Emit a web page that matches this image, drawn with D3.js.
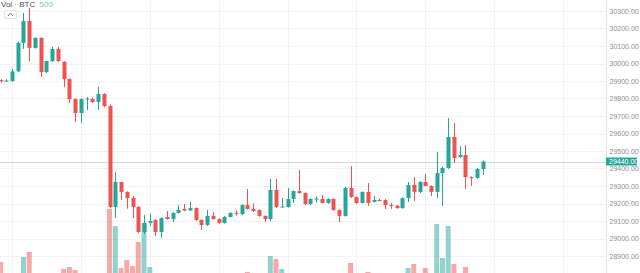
<!DOCTYPE html>
<html>
<head>
<meta charset="utf-8">
<script src="https://cdn.jsdelivr.net/npm/d3@7"></script>
<style>
  body { margin: 0; background: #fff; }
  svg { display: block; font-family: "Liberation Sans", "DejaVu Sans", sans-serif; }
</style>
</head>
<body>
<div id="chart"></div>
<script>
// 5-minute candles (index 0 = leftmost)
var opens  = [29905,29900,29900,29955,30117,30243,30089,30146,29951,30014,30083,30009,29911,29797,29717,29797,29797,29780,29826,29757,
              29180,29323,29266,29231,29180,29037,29089,29106,29037,29123,29111,29146,29169,29160,29174,29106,29077,29129,29111,29089,
              29123,29146,29140,29191,29169,29163,29129,29111,29277,29180,29180,29226,29271,29260,29197,29226,29226,29203,29226,29163,
              29129,29289,29237,29203,29266,29209,29220,29220,29191,29188,29174,29231,29306,29266,29323,29300,29266,29374,29403,29580,
              29466,29477,29351,29346,29397];
var highs  = [29910,29910,29970,30125,30289,30317,30150,30150,30014,30095,30095,30014,29915,29800,29800,29809,29805,29866,29830,29765,
              29380,29325,29270,29243,29185,29134,29140,29110,29120,29157,29150,29191,29197,29209,29178,29110,29163,29151,29114,29128,
              29150,29160,29195,29283,29200,29166,29132,29340,29340,29231,29289,29275,29391,29263,29230,29240,29249,29230,29230,29166,
              29295,29414,29240,29270,29317,29243,29226,29225,29203,29192,29236,29323,29351,29328,29369,29305,29494,29410,29689,29660,
              29529,29534,29355,29403,29445];
var lows   = [29890,29895,29895,29950,30083,30014,30085,29923,29945,30010,30009,29866,29774,29666,29660,29734,29775,29734,29750,29175,
              29117,29220,29170,29117,29031,29025,29070,29014,29003,29108,29094,29143,29155,29157,29100,29049,29072,29108,29085,29085,
              29120,29130,29135,29165,29152,29125,29094,29100,29175,29175,29176,29203,29255,29192,29192,29205,29200,29198,29158,29094,
              29125,29232,29198,29200,29186,29206,29212,29169,29169,29170,29170,29209,29214,29260,29297,29243,29231,29186,29398,29431,
              29460,29283,29300,29340,29363];
var closes = [29900,29903,29955,30117,30243,30089,30146,29951,30014,30083,30014,29911,29797,29717,29797,29800,29780,29826,29757,29180,
              29323,29266,29231,29180,29037,29089,29100,29037,29117,29111,29146,29163,29160,29174,29106,29077,29129,29111,29089,29123,
              29146,29143,29191,29169,29157,29129,29111,29277,29180,29183,29226,29271,29260,29197,29226,29228,29203,29226,29163,29129,
              29289,29237,29203,29266,29203,29220,29216,29191,29188,29174,29231,29306,29266,29323,29300,29266,29374,29403,29580,29460,
              29477,29351,29346,29397,29440];
var volumes = [180,30,30,40,230,280,30,40,30,30,30,110,130,100,40,30,30,40,50,710,
               540,120,200,140,380,570,130,50,40,30,30,30,30,30,40,40,40,30,30,30,
               30,30,40,80,30,30,30,240,210,110,50,40,40,40,30,30,30,30,40,40,
               60,170,40,40,80,30,30,40,30,30,50,120,160,50,120,40,560,220,540,160,
               60,130,40,40,50];

var priceTicks = [28900, 29000, 29100, 29200, 29300, 29400, 29500, 29600, 29700,
                  29800, 29900, 30000, 30100, 30200, 30300];
var legendName = "Vol · BTC";
var legendValue = "500";

var width = 640, height = 273;
var plotRight = 606;
var up = "#26a69a", down = "#ef5350";
var upVol = "rgba(38,166,154,0.5)", downVol = "rgba(239,83,80,0.5)";

var candles = opens.map(function (o, i) {
    return {i: i, o: o, h: highs[i], l: lows[i], c: closes[i], v: volumes[i]};
});

var svg = d3.select("#chart").append("svg")
    .attr("width", width)
    .attr("height", height);

// candle index -> x, 5.74px per bar
var xScale = d3.scaleLinear()
    .domain([0, candles.length - 1])
    .range([0.5, 0.5 + 5.74 * (candles.length - 1)]);
var yScale = d3.scaleLinear()
    .domain([28900, 30300])
    .range([256, 11]);
var vScale = d3.scaleLinear()
    .domain([0, 800])
    .range([280, 200]);

// grid
var grid = svg.append("g").attr("id", "grid");
grid.selectAll("line.h")
    .data(priceTicks)
    .enter().append("line")
    .attr("class", "h")
    .attr("x1", 0).attr("x2", plotRight)
    .attr("y1", function (d) { return Math.round(yScale(d)) + 0.5; })
    .attr("y2", function (d) { return Math.round(yScale(d)) + 0.5; })
    .attr("stroke", "#f0f2f6");
var vIdx = d3.range(2, 100, 12);
grid.selectAll("line.v")
    .data(vIdx)
    .enter().append("line")
    .attr("class", "v")
    .attr("x1", function (d) { return Math.round(xScale(d)) + 0.5; })
    .attr("x2", function (d) { return Math.round(xScale(d)) + 0.5; })
    .attr("y1", 0).attr("y2", height)
    .attr("stroke", "#f0f2f6");

// volume
svg.append("g").attr("id", "volume")
    .selectAll("rect")
    .data(candles)
    .enter().append("rect")
    .attr("x", function (d) { return xScale(d.i) - 2.5; })
    .attr("width", 5)
    .attr("y", function (d) { return vScale(d.v); })
    .attr("height", function (d) { return vScale(0) - vScale(d.v); })
    .attr("fill", function (d) { return d.c >= d.o ? upVol : downVol; });

// current price line
var last = candles[candles.length - 1];
svg.append("line")
    .attr("x1", 0).attr("x2", plotRight)
    .attr("y1", Math.round(yScale(last.c)) + 0.5)
    .attr("y2", Math.round(yScale(last.c)) + 0.5)
    .attr("stroke", "#d3d6dc");

// candles
var cg = svg.append("g").attr("id", "candles")
    .selectAll("g")
    .data(candles)
    .enter().append("g");
cg.append("line")
    .attr("x1", function (d) { return Math.round(xScale(d.i)) + 0.5; })
    .attr("x2", function (d) { return Math.round(xScale(d.i)) + 0.5; })
    .attr("y1", function (d) { return yScale(d.h); })
    .attr("y2", function (d) { return yScale(d.l); })
    .attr("stroke", function (d) { return d.c >= d.o ? up : down; });
cg.append("rect")
    .attr("x", function (d) { return Math.round(xScale(d.i)) - 1.5; })
    .attr("width", 4)
    .attr("y", function (d) { return yScale(Math.max(d.o, d.c)); })
    .attr("height", function (d) { return Math.max(1, Math.abs(yScale(d.o) - yScale(d.c))); })
    .attr("fill", function (d) { return d.c >= d.o ? up : down; });

// price scale
svg.append("rect")
    .attr("x", plotRight).attr("y", 0)
    .attr("width", width - plotRight).attr("height", height)
    .attr("fill", "#fff");
var axis = svg.append("g")
    .attr("transform", "translate(" + (plotRight + 0.5) + ",0)")
    .call(d3.axisRight(yScale).tickValues(priceTicks).tickFormat(d3.format(".2f")).tickSize(0).tickPadding(3));
axis.select(".domain").remove();
axis.selectAll("text")
    .attr("font-size", 7)
    .attr("fill", "#8a8d96");
svg.append("line")
    .attr("x1", plotRight + 0.5).attr("x2", plotRight + 0.5)
    .attr("y1", 0).attr("y2", height)
    .attr("stroke", "#e0e3eb");

// last price label
var ly = yScale(last.c);
svg.append("rect")
    .attr("x", plotRight).attr("y", ly - 4)
    .attr("width", 31).attr("height", 8)
    .attr("fill", up);
svg.append("text")
    .attr("x", plotRight + 3).attr("y", ly + 2.5)
    .attr("font-size", 7)
    .attr("fill", "#fff")
    .text(d3.format(".2f")(last.c));

// legend
var legend = svg.append("text")
    .attr("x", 1).attr("y", 7)
    .attr("font-size", 8);
legend.append("tspan").attr("fill", "#4a4d57").text(legendName);
legend.append("tspan").attr("dx", 4).attr("fill", "#7fc9bf").text(legendValue);
svg.append("rect")
    .attr("x", 4.5).attr("y", 10.5)
    .attr("width", 12).attr("height", 8)
    .attr("rx", 1.5)
    .attr("fill", "#fff")
    .attr("stroke", "#e0e3eb");
svg.append("path")
    .attr("d", "M8,16 L10.5,13 L13,16")
    .attr("fill", "none")
    .attr("stroke", "#555")
    .attr("stroke-width", 0.8);
</script>
</body>
</html>
